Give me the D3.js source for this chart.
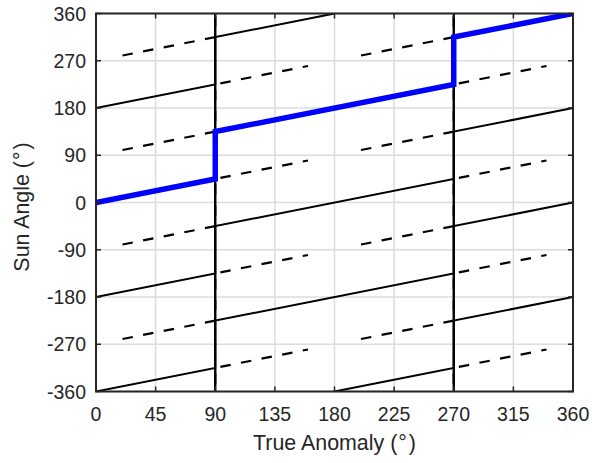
<!DOCTYPE html>
<html>
<head>
<meta charset="utf-8">
<script src="https://cdn.jsdelivr.net/npm/d3@7"></script>
<style>
  html, body { margin: 0; padding: 0; background: #fff; }
  svg { display: block; font-family: "Liberation Sans", Arial, Helvetica, sans-serif; }
</style>
</head>
<body>
<svg id="chart" width="592" height="463"></svg>
<script>
// ---- data ----
const trueAnomalyTicks = [0, 45, 90, 135, 180, 225, 270, 315, 360];
const sunAngleTicks = [-360, -270, -180, -90, 0, 90, 180, 270, 360];

// highlighted (blue) series
const selectedX = [0, 90, 90, 270, 270, 360];
const selectedY = [0, 45, 135, 225, 315, 360];

// solid black branches
const solidLinesX = [
  [0, 90, 90, 180],
  [0, 90, 90, 270, 270, 360],
  [0, 90, 90, 270, 270, 360],
  [0, 90, 90, 270, 270, 360],
  [180, 270, 270, 360]
];
const solidLinesY = [
  [180, 225, 315, 360],
  [0, 45, 135, 225, 315, 360],
  [-180, -135, -45, 45, 135, 180],
  [-360, -315, -225, -135, -45, 0],
  [-360, -315, -225, -180]
];

// dashed black branches
const dashedLinesX = [
  [20, 90, 90, 160], [20, 90, 90, 160], [20, 90, 90, 160], [20, 90, 90, 160], [20, 90, 90, 160],
  [200, 270, 270, 340], [200, 270, 270, 340], [200, 270, 270, 340], [200, 270, 270, 340], [200, 270, 270, 340]
];
const dashedLinesY = [
  [280, 315, 405, 440], [100, 135, 225, 260], [-80, -45, 45, 80], [-260, -225, -135, -100], [-440, -405, -315, -280],
  [280, 315, 405, 440], [100, 135, 225, 260], [-80, -45, 45, 80], [-260, -225, -135, -100], [-440, -405, -315, -280]
];

// vertical switching lines
const jumpAnomalies = [90, 270];

// ---- layout ----
const W = 592, H = 463;
const L = 96, R = 573, T = 13.5, B = 391.5;
const axisColor = "#262626";

const svg = d3.select("#chart");
svg.append("rect").attr("width", W).attr("height", H).attr("fill", "#fff");

const x = d3.scaleLinear().domain([0, 360]).range([L, R]);
const y = d3.scaleLinear().domain([-360, 360]).range([B, T]);

svg.append("defs").append("clipPath").attr("id", "plotclip")
  .append("rect").attr("x", L).attr("y", T).attr("width", R - L).attr("height", B - T);

// grid
const grid = svg.append("g");
grid.selectAll(".gx").data(trueAnomalyTicks).join("line")
  .attr("x1", d => x(d)).attr("x2", d => x(d)).attr("y1", T).attr("y2", B)
  .attr("stroke", "#dcdcdc").attr("stroke-width", 1.5);
grid.selectAll(".gy").data(sunAngleTicks).join("line")
  .attr("x1", L).attr("x2", R).attr("y1", d => y(d)).attr("y2", d => y(d))
  .attr("stroke", "#dcdcdc").attr("stroke-width", 1.5);

const line = d3.line().x(d => x(d[0])).y(d => y(d[1]));
const plot = svg.append("g").attr("clip-path", "url(#plotclip)");

// dashed
plot.selectAll(".dashed").data(dashedLinesX.map((xs, i) => xs.map((v, j) => [v, dashedLinesY[i][j]])))
  .join("path").attr("d", line).attr("fill", "none")
  .attr("stroke", "#000").attr("stroke-width", 2.2).attr("stroke-dasharray", "10.5,10.5");

// solid
plot.selectAll(".solid").data(solidLinesX.map((xs, i) => xs.map((v, j) => [v, solidLinesY[i][j]])))
  .join("path").attr("d", line).attr("fill", "none")
  .attr("stroke", "#000").attr("stroke-width", 2);

// vertical jump lines
plot.selectAll(".jump").data(jumpAnomalies).join("line")
  .attr("x1", d => x(d)).attr("x2", d => x(d)).attr("y1", y(-360)).attr("y2", y(360))
  .attr("stroke", "#000").attr("stroke-width", 2.4);

// blue
plot.append("path").datum(selectedX.map((v, j) => [v, selectedY[j]]))
  .attr("d", line).attr("fill", "none")
  .attr("stroke", "#0000ff").attr("stroke-width", 5.5).attr("stroke-linejoin", "miter");

// axes with inward ticks on all sides
const tickLen = 5;
const ax = svg.append("g");
ax.selectAll(".tb").data(trueAnomalyTicks).join("line")
  .attr("x1", d => x(d)).attr("x2", d => x(d)).attr("y1", B).attr("y2", B - tickLen)
  .attr("stroke", axisColor).attr("stroke-width", 1.5);
ax.selectAll(".tt").data(trueAnomalyTicks).join("line")
  .attr("x1", d => x(d)).attr("x2", d => x(d)).attr("y1", T).attr("y2", T + tickLen)
  .attr("stroke", axisColor).attr("stroke-width", 1.5);
ax.selectAll(".tl").data(sunAngleTicks).join("line")
  .attr("x1", L).attr("x2", L + tickLen).attr("y1", d => y(d)).attr("y2", d => y(d))
  .attr("stroke", axisColor).attr("stroke-width", 1.5);
ax.selectAll(".tr").data(sunAngleTicks).join("line")
  .attr("x1", R).attr("x2", R - tickLen).attr("y1", d => y(d)).attr("y2", d => y(d))
  .attr("stroke", axisColor).attr("stroke-width", 1.5);
ax.append("rect").attr("x", L).attr("y", T).attr("width", R - L).attr("height", B - T)
  .attr("fill", "none").attr("stroke", axisColor).attr("stroke-width", 2);

// tick labels
ax.selectAll(".xl").data(trueAnomalyTicks).join("text")
  .attr("x", d => x(d)).attr("y", 421).attr("text-anchor", "middle")
  .attr("font-size", "19.5px").attr("fill", axisColor).text(d => d);
ax.selectAll(".yl").data(sunAngleTicks).join("text")
  .attr("x", 86).attr("y", d => y(d)).attr("dy", "0.36em").attr("text-anchor", "end")
  .attr("font-size", "19.5px").attr("fill", axisColor).text(d => d);

// axis titles
const xt = svg.append("text").attr("x", (L + R) / 2).attr("y", 450).attr("text-anchor", "middle")
  .attr("font-size", "21.4px").attr("fill", axisColor);
xt.append("tspan").text("True Anomaly (");
xt.append("tspan").attr("dx", 1).text("°");
xt.append("tspan").attr("dx", 2).text(")");

const yt = svg.append("text").attr("transform", "translate(29," + 207 + ") rotate(-90)")
  .attr("text-anchor", "middle").attr("font-size", "21.4px").attr("fill", axisColor);
yt.append("tspan").text("Sun Angle (");
yt.append("tspan").attr("dx", 1).text("°");
yt.append("tspan").attr("dx", 2).text(")");
</script>
</body>
</html>
